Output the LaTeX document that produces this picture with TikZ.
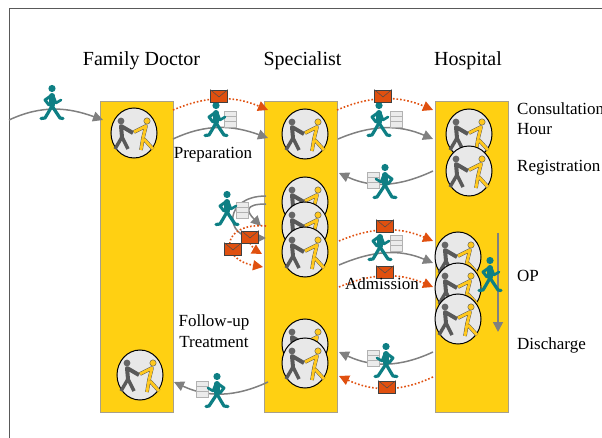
\documentclass[tikz,border=0pt]{standalone}
\usepackage{fontspec}
\setmainfont{Liberation Serif}
\usetikzlibrary{arrows.meta, shapes.geometric}
\definecolor{barcol}{HTML}{FFD012}
\definecolor{baredge}{HTML}{A8A08A}
\definecolor{mailcol}{HTML}{E0500F}
\definecolor{walkcol}{HTML}{0E7F84}
\definecolor{flowcol}{HTML}{808080}
\definecolor{shakecol}{HTML}{FFC81E}
\tikzset{
  barbox/.style={shape=rectangle,draw=baredge,fill=barcol,line width=1pt,minimum width=73pt,minimum height=310pt,inner sep=0pt},
  flow/.style={draw=flowcol,line width=1.5pt,-{Triangle[length=10pt,width=10pt]}},
  msg/.style={draw=mailcol,line width=1.6pt,dash pattern=on 1.6pt off 2pt,-{Triangle[length=10pt,width=10pt,fill=mailcol]}},
  headlab/.style={font=\fontsize{20}{23}\selectfont,inner sep=0pt,anchor=base},
  steplab/.style={font=\fontsize{17}{20}\selectfont,inner sep=0pt,anchor=base},
  sidelab/.style={font=\fontsize{17}{20}\selectfont,inner sep=0pt,anchor=base west},
  shake/.pic={
    \node[shape=ellipse,draw=black,fill=black!9,line width=1pt,minimum width=46pt,minimum height=50pt,inner sep=0pt] (-c) at (0,0) {};
    \draw[draw=black!65,line width=3.4pt,line join=round] (-19,16) -- (-12,4) -- (-6,16);
    \draw[draw=black!65,line width=4pt,line join=round] (-12,4) -- (-13,-7) -- (-1,0);
    \fill[black!60] (-13,-12) circle (3.4);
    \draw[draw=black!70,double=shakecol,double distance=2.8pt,line width=.4pt,line join=round] (7,17) -- (9,5) -- (19,16);
    \draw[draw=black!70,double=shakecol,double distance=2.8pt,line width=.4pt,line join=round] (9,5) -- (12,-7) -- (0,-1);
    \filldraw[draw=black!70,fill=shakecol,line width=.4pt] (13,-12) circle (3.2);
  },
  walker/.pic={
    \draw[walkcol,line width=3.2pt,line cap=round,line join=round] (-11,15.5) -- (-7,15) -- (-4,10) -- (0,3) -- (4,9) -- (8,15) -- (11,15.5);
    \draw[walkcol,line width=6pt,line cap=round] (0,-7) -- (0,2);
    \draw[walkcol,line width=3pt,line cap=round,line join=round] (0,-8) -- (-7,-3) -- (-3,2);
    \draw[walkcol,line width=2.6pt,line cap=round,line join=round] (1,-8) -- (4,0) -- (9,-3);
    \fill[walkcol] (0,-14.5) circle (3.6);
  },
  mail/.pic={
    \node[shape=rectangle,draw=black!75,fill=mailcol,line width=.8pt,minimum width=16.5pt,minimum height=12pt,inner sep=0pt] (-m) at (0,0) {};
    \draw[black!70,line width=.5pt] (-m.north west) -- (0,1) -- (-m.north east);
  },
  files/.pic={
    \node[shape=rectangle,draw=black!30,fill=black!8,line width=.8pt,minimum width=12pt,minimum height=16pt,inner sep=0pt] (-f) at (0,0) {};
    \draw[black!30,line width=.8pt] (-6,-2.5) -- (6,-2.5) (-6,2.5) -- (6,2.5);
  }
}
\begin{document}
\begin{tikzpicture}[x=1pt,y=-1pt]
\useasboundingbox (0,0) rectangle (602,438);
\draw[black!65,line width=1pt] (602,9) -- (9,9) -- (9,438);

\node[barbox] (FD) at (136.5,257) {};
\node[barbox] (SP) at (300.5,257) {};
\node[barbox] (HO) at (472,257) {};

\node[headlab] (famlab) at (141.5,66) {Family Doctor};
\node[headlab] (spclab) at (302.5,66) {Specialist};
\node[headlab] (hoslab) at (468,66) {Hospital};

\coordinate (in0) at (9,120);
\coordinate (in1) at (103,120);
\coordinate (fa1) at (173,139);
\coordinate (fa2) at (268,138);
\coordinate (fm1) at (173,110);
\coordinate (fm2) at (268,110);
\coordinate (sa1) at (338,139);
\coordinate (sa2) at (433,139);
\coordinate (sb1) at (433,171);
\coordinate (sb2) at (339,173);
\coordinate (sm1) at (337,110);
\coordinate (sm2) at (433,110);
\coordinate (am1) at (339,241);
\coordinate (am2) at (433,241);
\coordinate (ag1) at (339,265);
\coordinate (ag2) at (433,263);
\coordinate (an1) at (339,287);
\coordinate (an2) at (433,287);
\coordinate (ra1) at (433,352);
\coordinate (ra2) at (339,352);
\coordinate (rm1) at (433,377);
\coordinate (rm2) at (339,376);
\coordinate (ba1) at (268,382);
\coordinate (ba2) at (174,382);
\coordinate (lo1) at (266,196);
\coordinate (lo2) at (266,238);
\coordinate (li1) at (266,204);
\coordinate (li2) at (261,226);
\coordinate (lm1) at (266,226);
\coordinate (lm2) at (263,267);
\coordinate (ln1) at (248,240);
\coordinate (ln2) at (262,254);

\draw[flow] (in0) to[out=25,in=160] (in1);
\draw[flow] (fa1) to[out=25,in=160] (fa2);
\draw[msg] (fm1) to[out=23,in=157] (fm2);
\draw[flow] (sa1) to[out=23,in=157] (sa2);
\draw[msg] (sm1) to[out=23,in=157] (sm2);
\draw[flow] (sb1) to[out=205,in=-25] (sb2);
\draw[msg] (am1) to[out=23,in=157] (am2);
\draw[flow] (ag1) to[out=23,in=157] (ag2);
\draw[msg] (an1) to[out=23,in=157] (an2);
\draw[flow] (ra1) to[out=205,in=-25] (ra2);
\draw[msg] (rm1) to[out=205,in=-25] (rm2);
\draw[flow] (ba1) to[out=205,in=-25] (ba2);
\draw[flow] (lo1) to[out=180,in=180,looseness=2.6] (lo2);
\draw[flow] (li1) to[out=180,in=135,looseness=2.4] (li2);
\draw[msg] (lm1) to[out=175,in=170,looseness=2.8] (lm2);
\draw[msg] (ln1) to[out=-60,in=150] (ln2);

\pic (f1) at (134,133) {shake};
\pic (f2) at (140,375) {shake};
\pic (s1) at (305,134) {shake};
\pic (s2) at (305,202) {shake};
\pic (s3) at (305,227) {shake};
\pic (s4) at (305,252) {shake};
\pic (s5) at (305,344) {shake};
\pic (s6) at (305,363) {shake};
\pic (h1) at (469,134) {shake};
\pic (h2) at (469,171) {shake};
\pic (h3) at (458,257) {shake};
\pic (h4) at (458,288) {shake};
\pic (h5) at (458,319) {shake};

\coordinate (od1) at (498,233);
\coordinate (od2) at (498,332);
\draw[flow] (od1) -- (od2);

\pic at (230,119) {files};
\pic at (396,119) {files};
\pic at (373,180) {files};
\pic at (242,210) {files};
\pic at (396,243) {files};
\pic at (373,358) {files};
\pic at (202,389) {files};

\pic at (52,103) {walker};
\pic at (216,120) {walker};
\pic at (379,120) {walker};
\pic[xscale=-1] at (385,182) {walker};
\pic at (227,209) {walker};
\pic at (380,244) {walker};
\pic at (490,275) {walker};
\pic[xscale=-1] at (386,361) {walker};
\pic[xscale=-1] at (217,391) {walker};

\pic at (219,96) {mail};
\pic at (383,96) {mail};
\pic at (250,237) {mail};
\pic at (233,249) {mail};
\pic at (385,226) {mail};
\pic at (385,272) {mail};
\pic at (387,387) {mail};

\node[steplab] (prep) at (213,159) {Preparation};
\node[steplab] (foll) at (214,326) {Follow-up};
\node[steplab] (treat) at (214,347) {Treatment};
\node[steplab] (adm) at (382,290) {Admission};
\node[sidelab] (cons) at (517,115) {Consultation};
\node[sidelab] (hour) at (517,135) {Hour};
\node[sidelab] (reg) at (517,172) {Registration};
\node[sidelab] (op) at (517,281) {OP};
\node[sidelab] (dis) at (517,349) {Discharge};
\end{tikzpicture}
\end{document}
